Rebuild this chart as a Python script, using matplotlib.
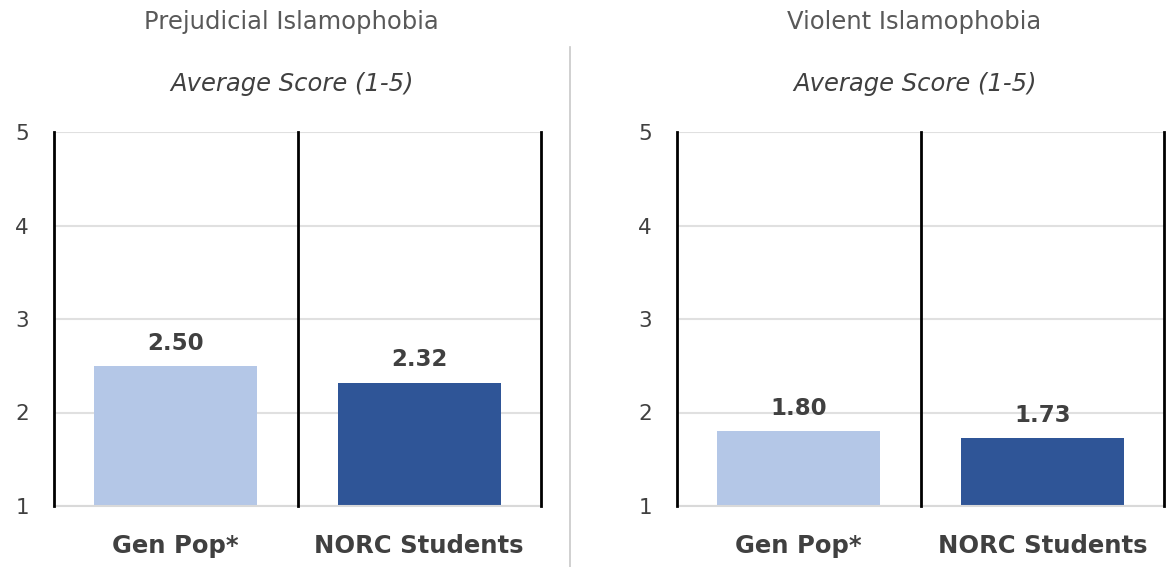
import matplotlib
matplotlib.use("Agg")
import matplotlib.pyplot as plt

plt.rcParams['font.family'] = ['DejaVu Sans']

categories = ["Gen Pop*", "NORC Students"]
panel_titles = ["Prejudicial Islamophobia", "Violent Islamophobia"]
prejudicial = [2.50, 2.32]
violent = [1.80, 1.73]
yticks = [1, 2, 3, 4, 5]

colors = ["#b4c7e7", "#2f5597"]
txt = "#404040"

fig = plt.figure(figsize=(11.76, 5.67), dpi=100)

lefts = [54 / 1176, 677 / 1176]
for left, title, vals in zip(lefts, panel_titles, [prejudicial, violent]):
    ax = fig.add_axes([left, 1 - 506 / 567, 487 / 1176, 374 / 567])
    xs = range(len(categories))
    ax.bar(xs, vals, width=0.67, color=colors, zorder=2)
    for x, v in zip(xs, vals):
        ax.text(x, v + 0.12, f"{v:.2f}", ha="center", va="bottom",
                fontsize=16.5, fontweight="bold", color=txt)
    ax.set_ylim(1, 5)
    ax.set_xlim(-0.5, 1.5)
    ax.set_yticks(yticks)
    ax.set_yticklabels([str(t) for t in yticks], fontsize=15.5, color=txt)
    ax.set_xticks(list(xs))
    ax.set_xticklabels(categories, fontsize=17.5, fontweight="bold", color=txt)
    ax.tick_params(axis="y", length=0, pad=18)
    ax.tick_params(axis="x", length=0, pad=20)
    ax.grid(axis="y", color="#e0e0e0", linewidth=1.5, zorder=0)
    for s in ["top", "left", "right"]:
        ax.spines[s].set_visible(False)
    ax.spines["bottom"].set_color("#d9d9d9")
    ax.spines["bottom"].set_linewidth(1.5)
    for xv in [-0.5, 0.5, 1.5]:
        ax.axvline(xv, color="black", linewidth=2, zorder=3, clip_on=False)
    cx = left + 487 / 1176 / 2 - 0.005
    fig.text(cx, 1 - 22 / 567, title, ha="center", va="center",
             fontsize=17.5, color="#595959")
    fig.text(cx, 1 - 84 / 567, "Average Score (1-5)", ha="center", va="center",
             fontsize=17.5, style="italic", color="#404040")

fig.add_artist(plt.Line2D([570 / 1176, 570 / 1176], [0, 1 - 47 / 567],
                          color="#c8c8c8", linewidth=1.2))

fig.savefig("out.png", dpi=100, facecolor="white")
